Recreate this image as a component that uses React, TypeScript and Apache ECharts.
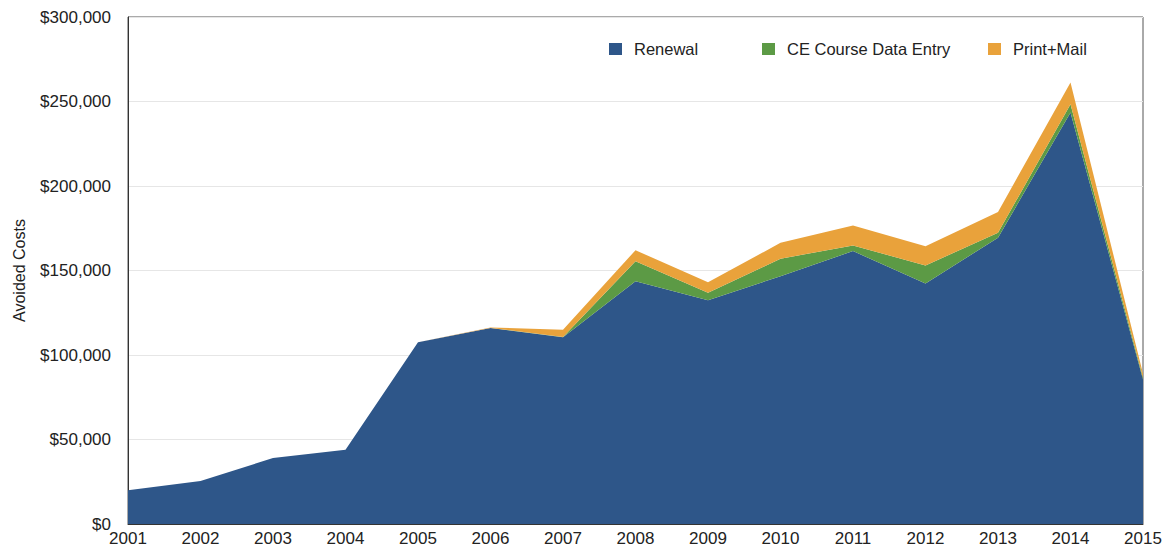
import React, { useEffect, useRef } from "react";
import * as echarts from "echarts";

const years = ["2001","2002","2003","2004","2005","2006","2007","2008","2009","2010","2011","2012","2013","2014","2015"];
const renewal = [20000, 25500, 39000, 44000, 107500, 116000, 110500, 143700, 132400, 146600, 161500, 142300, 169400, 243500, 85500];
const ceCourse = [0, 0, 0, 0, 0, 0, 200, 11800, 4400, 10400, 3300, 10700, 2900, 4900, 1200];
const printMail = [0, 0, 0, 0, 0, 300, 4300, 6500, 6200, 9400, 11900, 11400, 12300, 12900, 2200];
const yTicks = { min: 0, max: 300000, interval: 50000 };

const COLORS = { renewal: "#2E5689", ce: "#5C9A45", print: "#E9A23B" };
const FONT = "'Liberation Sans', Arial, Helvetica, sans-serif";

export default function App() {
  const ref = useRef<HTMLDivElement>(null);
  useEffect(() => {
    if (!ref.current) return;
    const chart = echarts.init(ref.current, undefined, { renderer: "svg" });
    const mkLegend = (name: string, left: number) => ({
      data: [name],
      left,
      top: 40,
      padding: 0,
      orient: "horizontal",
      itemWidth: 13,
      itemHeight: 12,
      icon: "rect",
      selectedMode: false,
      textStyle: { fontSize: 16.5, lineHeight: 18, color: "#222", fontFamily: FONT, padding: [0, 0, 0, 7] },
    });
    const mkSeries = (name: string, data: number[], color: string) => ({
      name,
      type: "line",
      stack: "total",
      data,
      symbol: "none",
      lineStyle: { width: 0 },
      itemStyle: { color },
      areaStyle: { color, opacity: 1 },
    });
    chart.setOption({
      animation: false,
      textStyle: { fontFamily: FONT },
      grid: {
        left: 128, right: 24, top: 17, bottom: 26,
        show: true, borderColor: "#555", borderWidth: 1, backgroundColor: "transparent",
      },
      legend: [
        mkLegend("Renewal", 609),
        mkLegend("CE Course Data Entry", 762),
        mkLegend("Print+Mail", 988),
      ],
      xAxis: {
        type: "category",
        data: years,
        boundaryGap: false,
        axisLine: { lineStyle: { color: "#333", width: 1 } },
        axisTick: { show: false },
        axisLabel: { fontSize: 17, color: "#222", fontFamily: FONT, margin: 6 },
        splitLine: { show: false },
      },
      yAxis: {
        type: "value",
        min: yTicks.min,
        max: yTicks.max,
        interval: yTicks.interval,
        name: "Avoided Costs",
        nameLocation: "middle",
        nameGap: 101,
        nameTextStyle: { fontSize: 16, color: "#222", fontFamily: FONT },
        axisLine: { show: true, lineStyle: { color: "#333", width: 1 } },
        axisTick: { show: false },
        axisLabel: {
          fontSize: 17, color: "#222", fontFamily: FONT, margin: 17,
          formatter: (v: number) => "$" + v.toLocaleString("en-US"),
        },
        splitLine: { show: true, lineStyle: { color: "#e6e6e6", width: 1 } },
      },
      series: [
        mkSeries("Renewal", renewal, COLORS.renewal),
        mkSeries("CE Course Data Entry", ceCourse, COLORS.ce),
        mkSeries("Print+Mail", printMail, COLORS.print),
      ],
    });
    return () => chart.dispose();
  }, []);
  return (
    <div
      ref={ref}
      style={{ position: "fixed", left: 0, top: 0, width: 1167, height: 550, background: "#fff" }}
    />
  );
}
